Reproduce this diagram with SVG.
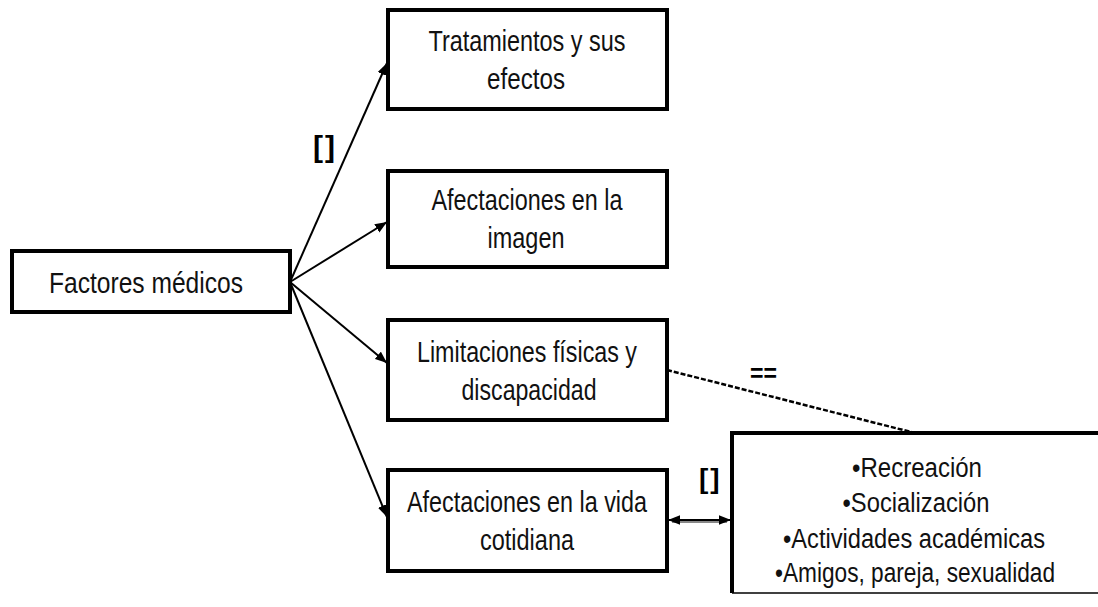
<svg xmlns="http://www.w3.org/2000/svg" width="1098" height="607" viewBox="0 0 1098 607">
<defs>
<style>
.box{fill:#fff;stroke:#000;stroke-width:4}
.t{font-family:"Liberation Sans",Arial,sans-serif;font-size:30px;fill:#111;text-anchor:middle}
.t2{font-family:"Liberation Sans",Arial,sans-serif;font-size:27px;fill:#111;text-anchor:middle}
.lbl{font-family:"Liberation Sans",Arial,sans-serif;font-weight:bold;fill:#000}
.con{stroke:#000;stroke-width:2;fill:none}
.dash{stroke:#000;stroke-width:2.5;fill:none;stroke-dasharray:5 2}
</style>
<marker id="ah" viewBox="0 0 10 8" markerWidth="12" markerHeight="10" refX="10" refY="4" orient="auto-start-reverse" markerUnits="userSpaceOnUse">
<path d="M0,0 L10,4 L0,8 z" fill="#000"/>
</marker>
</defs>
<rect width="1098" height="607" fill="#fff"/>
<g id="connectors">
<line class="con" x1="290" y1="282" x2="387" y2="63" marker-end="url(#ah)"/>
<line class="con" x1="290" y1="282" x2="387" y2="222" marker-end="url(#ah)"/>
<line class="con" x1="290" y1="282" x2="387" y2="363" marker-end="url(#ah)"/>
<line class="con" x1="290" y1="282" x2="387" y2="517" marker-end="url(#ah)"/>
<line class="dash" x1="667" y1="370" x2="915" y2="433"/>
<line x1="672" y1="522" x2="727" y2="522" stroke="#888" stroke-width="2"/>
<line x1="668" y1="520" x2="731" y2="520" stroke="#000" stroke-width="2" marker-start="url(#ah)" marker-end="url(#ah)"/>
<text class="lbl" x="313" y="157" font-size="30" letter-spacing="2">[]</text>
<text class="lbl" x="699" y="488" font-size="28" letter-spacing="2">[]</text>
<text class="lbl" x="750" y="382" font-size="26" textLength="27" lengthAdjust="spacingAndGlyphs">==</text>
</g>
<g id="factores">
<rect class="box" x="12" y="251" width="278" height="61"/>
<text class="t" x="146" y="293" textLength="194" lengthAdjust="spacingAndGlyphs">Factores médicos</text>
</g>
<g id="tratamientos">
<rect class="box" x="388" y="10" width="279" height="99"/>
<text class="t" x="527" y="51" textLength="197" lengthAdjust="spacingAndGlyphs">Tratamientos y sus</text>
<text class="t" x="526" y="89" textLength="78" lengthAdjust="spacingAndGlyphs">efectos</text>
</g>
<g id="imagen">
<rect class="box" x="388" y="171" width="279" height="96"/>
<text class="t" x="527" y="210" textLength="191" lengthAdjust="spacingAndGlyphs">Afectaciones en la</text>
<text class="t" x="526" y="248" textLength="77" lengthAdjust="spacingAndGlyphs">imagen</text>
</g>
<g id="limitaciones">
<rect class="box" x="388" y="320" width="279" height="100"/>
<text class="t" x="527" y="362" textLength="220" lengthAdjust="spacingAndGlyphs">Limitaciones físicas y</text>
<text class="t" x="529" y="400" textLength="135" lengthAdjust="spacingAndGlyphs">discapacidad</text>
</g>
<g id="vida">
<rect class="box" x="388" y="470" width="279" height="101"/>
<text class="t" x="527" y="512" textLength="240" lengthAdjust="spacingAndGlyphs">Afectaciones en la vida</text>
<text class="t" x="527" y="550" textLength="94" lengthAdjust="spacingAndGlyphs">cotidiana</text>
</g>
<g id="actividades">
<rect x="732" y="433" width="366" height="160" fill="#fff" stroke="none"/>
<path d="M1098,433 H732 V593" fill="none" stroke="#000" stroke-width="4"/>
<line x1="732" y1="593" x2="1098" y2="593" stroke="#000" stroke-width="1.5"/>
<text class="t2" x="917" y="477" textLength="130" lengthAdjust="spacingAndGlyphs">•Recreación</text>
<text class="t2" x="916" y="512" textLength="147" lengthAdjust="spacingAndGlyphs">•Socialización</text>
<text class="t2" x="914" y="548" textLength="262" lengthAdjust="spacingAndGlyphs">•Actividades académicas</text>
<text class="t2" x="915" y="582" textLength="280" lengthAdjust="spacingAndGlyphs">•Amigos, pareja, sexualidad</text>
</g>
</svg>
